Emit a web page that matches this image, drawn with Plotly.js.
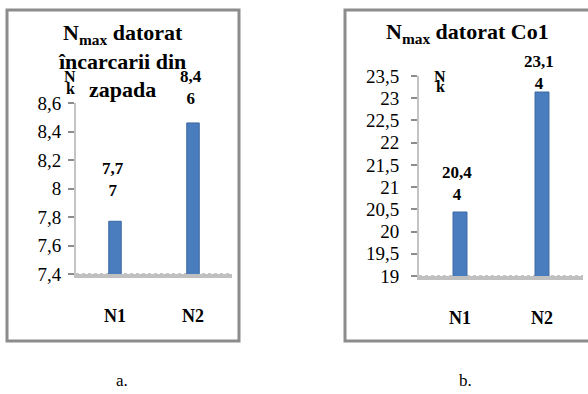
<!DOCTYPE html>
<html>
<head>
<meta charset="utf-8">
<script src="https://cdn.plot.ly/plotly-3.0.1.min.js"></script>
<style>
html,body{margin:0;padding:0;background:#fff;}
#chart{width:588px;height:394px;}
</style>
</head>
<body>
<div id="chart"></div>
<script>
// ---- data ----
var categories = ["N1", "N2"];
var valuesA = [7.77, 8.46];
var valuesB = [20.44, 23.14];
var tickValsA = [7.4, 7.6, 7.8, 8, 8.2, 8.4, 8.6];
var tickTextA = ["7,4", "7,6", "7,8", "8", "8,2", "8,4", "8,6"];
var tickValsB = [19, 19.5, 20, 20.5, 21, 21.5, 22, 22.5, 23, 23.5];
var tickTextB = ["19", "19,5", "20", "20,5", "21", "21,5", "22", "22,5", "23", "23,5"];
var titleA = "N<sub>max</sub> datorat<br>încarcarii din<br>zapada";
var titleB = "N<sub>max</sub> datorat Co1";
var axisTitleTop = "N";
var axisTitleBottom = "k";
var panelLabels = ["a.", "b."];

// ---- helpers ----
var W = 588, H = 394;
function px(x){ return x / W; }
function py(y){ return 1 - y / H; }
function labelText(v){
  var s = v.toFixed(2).replace('.', ',');
  return '<b>' + s.slice(0, -1) + '<br>' + s.slice(-1) + '</b>';
}
var serif = "'Liberation Serif', 'Times New Roman', serif";
var barColor = "#4a7dbd";
var barEdge = "#3b68a3";

var traces = [
  {type: "bar", x: categories, y: valuesA, xaxis: "x", yaxis: "y",
   width: 0.16, marker: {color: barColor, line: {color: barEdge, width: 1}}, hoverinfo: "none"},
  {type: "bar", x: categories, y: valuesB, xaxis: "x2", yaxis: "y2",
   width: 0.17, marker: {color: barColor, line: {color: barEdge, width: 1}}, hoverinfo: "none"}
];

var shiftsA = [19, 13];
var shiftsB = [6, -3];
var annotations = [];
categories.forEach(function(c, i){
  annotations.push({xref: "x", yref: "y", x: c, y: valuesA[i], text: labelText(valuesA[i]),
    showarrow: false, yanchor: "bottom", yshift: shiftsA[i], xshift: -2,
    font: {family: serif, size: 17, color: "#000"}});
  annotations.push({xref: "x2", yref: "y2", x: c, y: valuesB[i], text: labelText(valuesB[i]),
    showarrow: false, yanchor: "bottom", yshift: shiftsB[i], xshift: -3,
    font: {family: serif, size: 17, color: "#000"}});
});
// panel titles
annotations.push({xref: "paper", yref: "paper", x: px(122), y: py(61), text: "<b>" + titleA + "</b>",
  showarrow: false, xanchor: "center", yanchor: "middle", font: {family: serif, size: 22, color: "#000"}});
annotations.push({xref: "paper", yref: "paper", x: px(467), y: py(33), text: "<b>" + titleB + "</b>",
  showarrow: false, xanchor: "center", yanchor: "middle", font: {family: serif, size: 22, color: "#000"}});
// axis titles (stacked N / k)
[[70, 76, 88], [440, 76, 87]].forEach(function(p){
  annotations.push({xref: "paper", yref: "paper", x: px(p[0]), y: py(p[1]), text: "<b>" + axisTitleTop + "</b>",
    showarrow: false, xanchor: "center", yanchor: "middle", font: {family: serif, size: 16, color: "#000"}});
  annotations.push({xref: "paper", yref: "paper", x: px(p[0]), y: py(p[2]), text: "<b>" + axisTitleBottom + "</b>",
    showarrow: false, xanchor: "center", yanchor: "middle", font: {family: serif, size: 16, color: "#000"}});
});
// panel captions
annotations.push({xref: "paper", yref: "paper", x: px(122), y: py(380), text: panelLabels[0],
  showarrow: false, xanchor: "center", yanchor: "middle", font: {family: serif, size: 17, color: "#000"}});
annotations.push({xref: "paper", yref: "paper", x: px(465), y: py(380), text: panelLabels[1],
  showarrow: false, xanchor: "center", yanchor: "middle", font: {family: serif, size: 17, color: "#000"}});

var shapes = [
  {type: "rect", xref: "paper", yref: "paper", x0: px(7), x1: px(239), y0: py(341), y1: py(10),
   line: {color: "#8c8c8c", width: 3}, fillcolor: "rgba(0,0,0,0)", layer: "below"},
  {type: "rect", xref: "paper", yref: "paper", x0: px(345), x1: px(600), y0: py(341), y1: py(10),
   line: {color: "#8c8c8c", width: 3}, fillcolor: "rgba(0,0,0,0)", layer: "below"},
  // hatched floor effect along the category axes
  {type: "line", xref: "x domain", yref: "y domain", x0: 0, x1: 1, y0: 0, y1: 0,
   line: {color: "#8a8a8a", width: 1, dash: "dot"}, layer: "below"},
  {type: "line", xref: "x2 domain", yref: "y2 domain", x0: 0, x1: 1, y0: 0, y1: 0,
   line: {color: "#8a8a8a", width: 1, dash: "dot"}, layer: "below"}
];

var xCommon = {type: "category", showgrid: false, zeroline: false, showline: true,
  linecolor: "#c0c0c0", linewidth: 4, ticks: "", ticklabelstandoff: 22,
  tickfont: {family: serif, size: 18, color: "#000", weight: "bold"}, fixedrange: true};
var yCommon = {showgrid: false, zeroline: false, showline: true, linecolor: "#c4c4c4", linewidth: 2,
  ticks: "outside", ticklen: 6, tickwidth: 2, tickcolor: "#8c8c8c",
  tickfont: {family: serif, size: 19, color: "#000"}, fixedrange: true};

var layout = {
  width: W, height: H,
  margin: {l: 0, r: 0, t: 0, b: 0},
  paper_bgcolor: "#fff", plot_bgcolor: "rgba(0,0,0,0)",
  showlegend: false,
  xaxis: Object.assign({}, xCommon, {domain: [px(76), px(232)], anchor: "y"}),
  xaxis2: Object.assign({}, xCommon, {domain: [px(419), px(583)], anchor: "y2"}),
  yaxis: Object.assign({}, yCommon, {domain: [py(274), py(103)], anchor: "x",
    range: [7.4, 8.6], tickmode: "array", tickvals: tickValsA, ticktext: tickTextA, ticklabelstandoff: 3}),
  yaxis2: Object.assign({}, yCommon, {domain: [py(276), py(76)], anchor: "x2",
    range: [19, 23.5], tickmode: "array", tickvals: tickValsB, ticktext: tickTextB, ticklabelstandoff: 8}),
  annotations: annotations,
  shapes: shapes
};

Plotly.newPlot("chart", traces, layout, {staticPlot: true, displayModeBar: false});
</script>
</body>
</html>
